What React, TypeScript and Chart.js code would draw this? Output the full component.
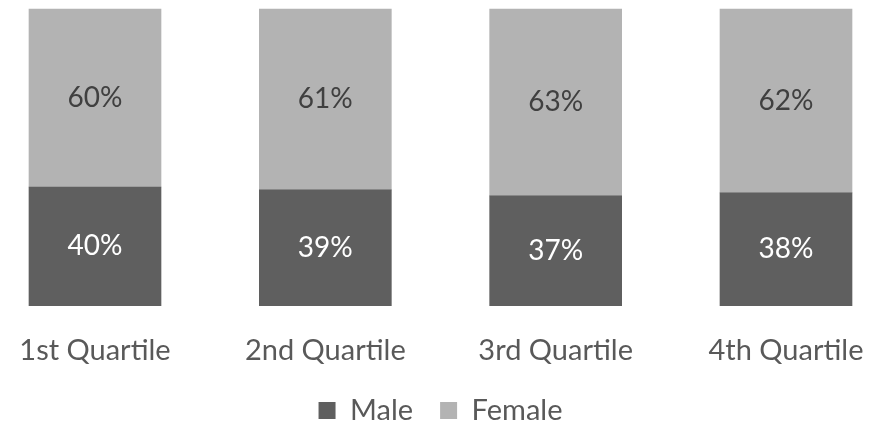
import React, { useEffect, useRef } from "react";
import { Chart, registerables } from "chart.js";

Chart.register(...registerables);

const categories = ["1st Quartile", "2nd Quartile", "3rd Quartile", "4th Quartile"];
const maleValues = [40, 39, 37, 38];
const femaleValues = [60, 61, 63, 62];
const seriesNames = ["Male", "Female"];

const FONT = "Lato";

const labelPlugin = {
  id: "barLabels",
  afterDatasetsDraw(chart: any) {
    const ctx = chart.ctx;
    ctx.save();
    ctx.font = `28px ${FONT}`;
    ctx.textAlign = "center";
    ctx.textBaseline = "middle";
    chart.data.datasets.forEach((ds: any, di: number) => {
      const meta = chart.getDatasetMeta(di);
      meta.data.forEach((el: any, i: number) => {
        const v = ds.data[i];
        const cy = (el.y + el.base) / 2;
        ctx.fillStyle = ds.labelColor;
        ctx.fillText(`${v}%`, el.x, cy);
      });
    });
    ctx.restore();
  },
};

export default function App() {
  const ref = useRef<HTMLCanvasElement>(null);
  useEffect(() => {
    const chart = new Chart(ref.current!, {
      type: "bar",
      data: {
        labels: categories,
        datasets: [
          {
            label: seriesNames[0],
            data: maleValues,
            backgroundColor: "#5f5f5f",
            barThickness: 132,
            clip: false,
            labelColor: "#ffffff",
          } as any,
          {
            label: seriesNames[1],
            data: femaleValues,
            backgroundColor: "#b3b3b3",
            barThickness: 132,
            clip: false,
            labelColor: "#404040",
          } as any,
        ],
      },
      options: {
        animation: false,
        responsive: true,
        maintainAspectRatio: false,
        layout: { padding: { left: 95, right: 104, top: 9, bottom: -12 } },
        scales: {
          x: {
            stacked: true,
            offset: false,
            grid: { display: true, drawOnChartArea: false, drawTicks: true, tickLength: 26, color: "rgba(0,0,0,0)" },
            border: { display: false },
            ticks: { color: "#595959", font: { family: FONT, size: 29, lineHeight: 0.6 }, padding: 10, maxRotation: 0, autoSkip: false },
          },
          y: { stacked: true, min: 0, max: 100, display: false },
        },
        plugins: {
          legend: {
            position: "bottom",
            labels: {
              color: "#595959",
              font: { family: FONT, size: 29 },
              boxWidth: 17,
              boxHeight: 17,
              padding: 27,
            },
          },
          tooltip: { enabled: false },
        },
      },
      plugins: [labelPlugin],
    });
    return () => chart.destroy();
  }, []);
  return (
    <div style={{ position: "absolute", left: 0, top: 0, width: 890, height: 423 }}>
      <canvas ref={ref} />
    </div>
  );
}
